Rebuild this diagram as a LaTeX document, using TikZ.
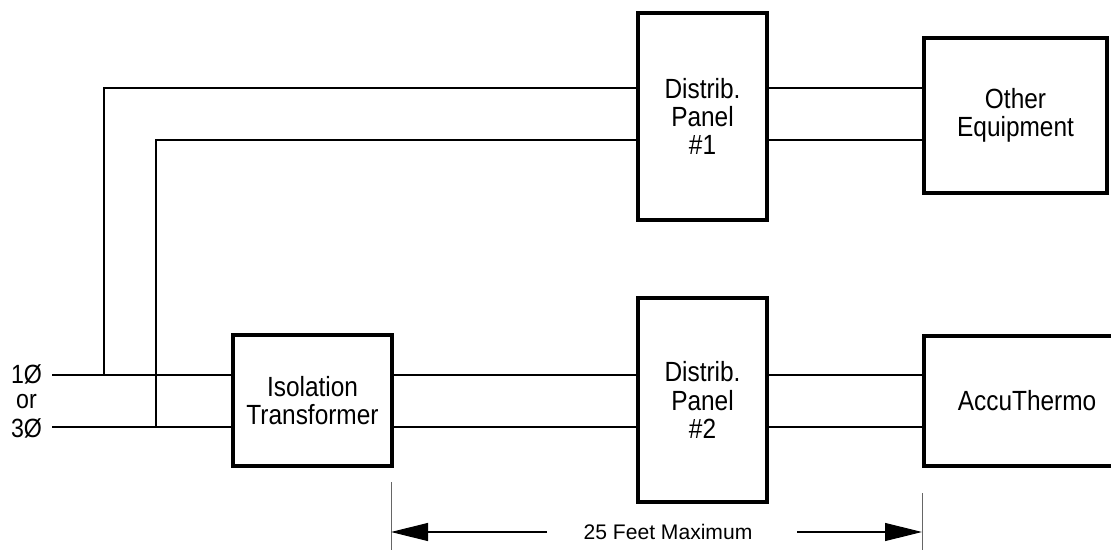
\documentclass[tikz,border=0pt]{standalone}
\usepackage{fontspec}
\setmainfont{Liberation Sans}
\newfontfamily\boxfont{Liberation Sans}[FakeStretch=0.88]
\usetikzlibrary{arrows.meta}

\begin{document}
\begin{tikzpicture}[x=0.02cm, y=-0.02cm, line width=0.85pt,
  blk/.style={draw, line width=2.3pt, align=center, inner sep=0pt,
    font=\boxfont\fontsize{15.8}{16}\selectfont},
  lbl/.style={inner sep=0pt, font=\boxfont\fontsize{15}{15}\selectfont},
  tick/.style={draw=black!60, line width=0.5pt},
  dim/.style={line width=0.6pt, -{Triangle[length=0.74cm, width=0.36cm]}}]
  \useasboundingbox (0,0) rectangle (1111,550);
  % 상자들
  \node[blk, minimum width=2.58cm, minimum height=4.14cm] (panelA) at (702.5,116.5) {Distrib.\\Panel\\\#1};
  \node[blk, minimum width=3.66cm, minimum height=3.1cm] (other) at (1015.5,115.5) {Other\\Equipment};
  \node[blk, minimum width=3.18cm, minimum height=2.62cm] (xfmr) at (312.5,400.5) {Isolation\\Transformer};
  \node[blk, minimum width=2.58cm, minimum height=4.08cm] (panelB) at (702.5,400) {Distrib.\\Panel\\\#2};
  \node[blk, minimum width=4.12cm, minimum height=2.6cm] (accu) at (1027,401) {AccuThermo};
  % 입력 표시
  \node[lbl] (in1) at (26.5,374) {1Ø};
  \node[lbl] (inor) at (26.5,402) {or};
  \node[lbl] (in3) at (26.5,428) {3Ø};
  \coordinate (s1) at (52,375);
  \coordinate (s2) at (52,427);
  \coordinate (t1) at (104,88);
  \coordinate (t2) at (156,140);
  % 아래 선로: 입력 → 변압기 → 분전반 #2 → AccuThermo
  \draw (s1) -- (s1 -| xfmr.west);
  \draw (s2) -- (s2 -| xfmr.west);
  \draw (s1 -| xfmr.east) -- (s1 -| panelB.west);
  \draw (s2 -| xfmr.east) -- (s2 -| panelB.west);
  \draw (s1 -| panelB.east) -- (s1 -| accu.west);
  \draw (s2 -| panelB.east) -- (s2 -| accu.west);
  % 위 선로: 분기 → 분전반 #1 → 기타 장비
  \draw (s1 -| t1) -- (t1) -- (t1 -| panelA.west);
  \draw (s2 -| t2) -- (t2) -- (t2 -| panelA.west);
  \draw (t1 -| panelA.east) -- (t1 -| other.west);
  \draw (t2 -| panelA.east) -- (t2 -| other.west);
  % 치수선
  \coordinate (dL) at (391,482);
  \coordinate (dR) at (922,493);
  \draw[tick] (dL) -- (391,550);
  \draw[tick] (dR) -- (922,550);
  \node[inner sep=0pt, font=\fontsize{12}{14}\selectfont] (dimtxt) at (668,532) {25 Feet Maximum};
  \draw[dim] (547,532) -- (dL |- dimtxt);
  \draw[dim] (797,532) -- (dR |- dimtxt);
\end{tikzpicture}
\end{document}
